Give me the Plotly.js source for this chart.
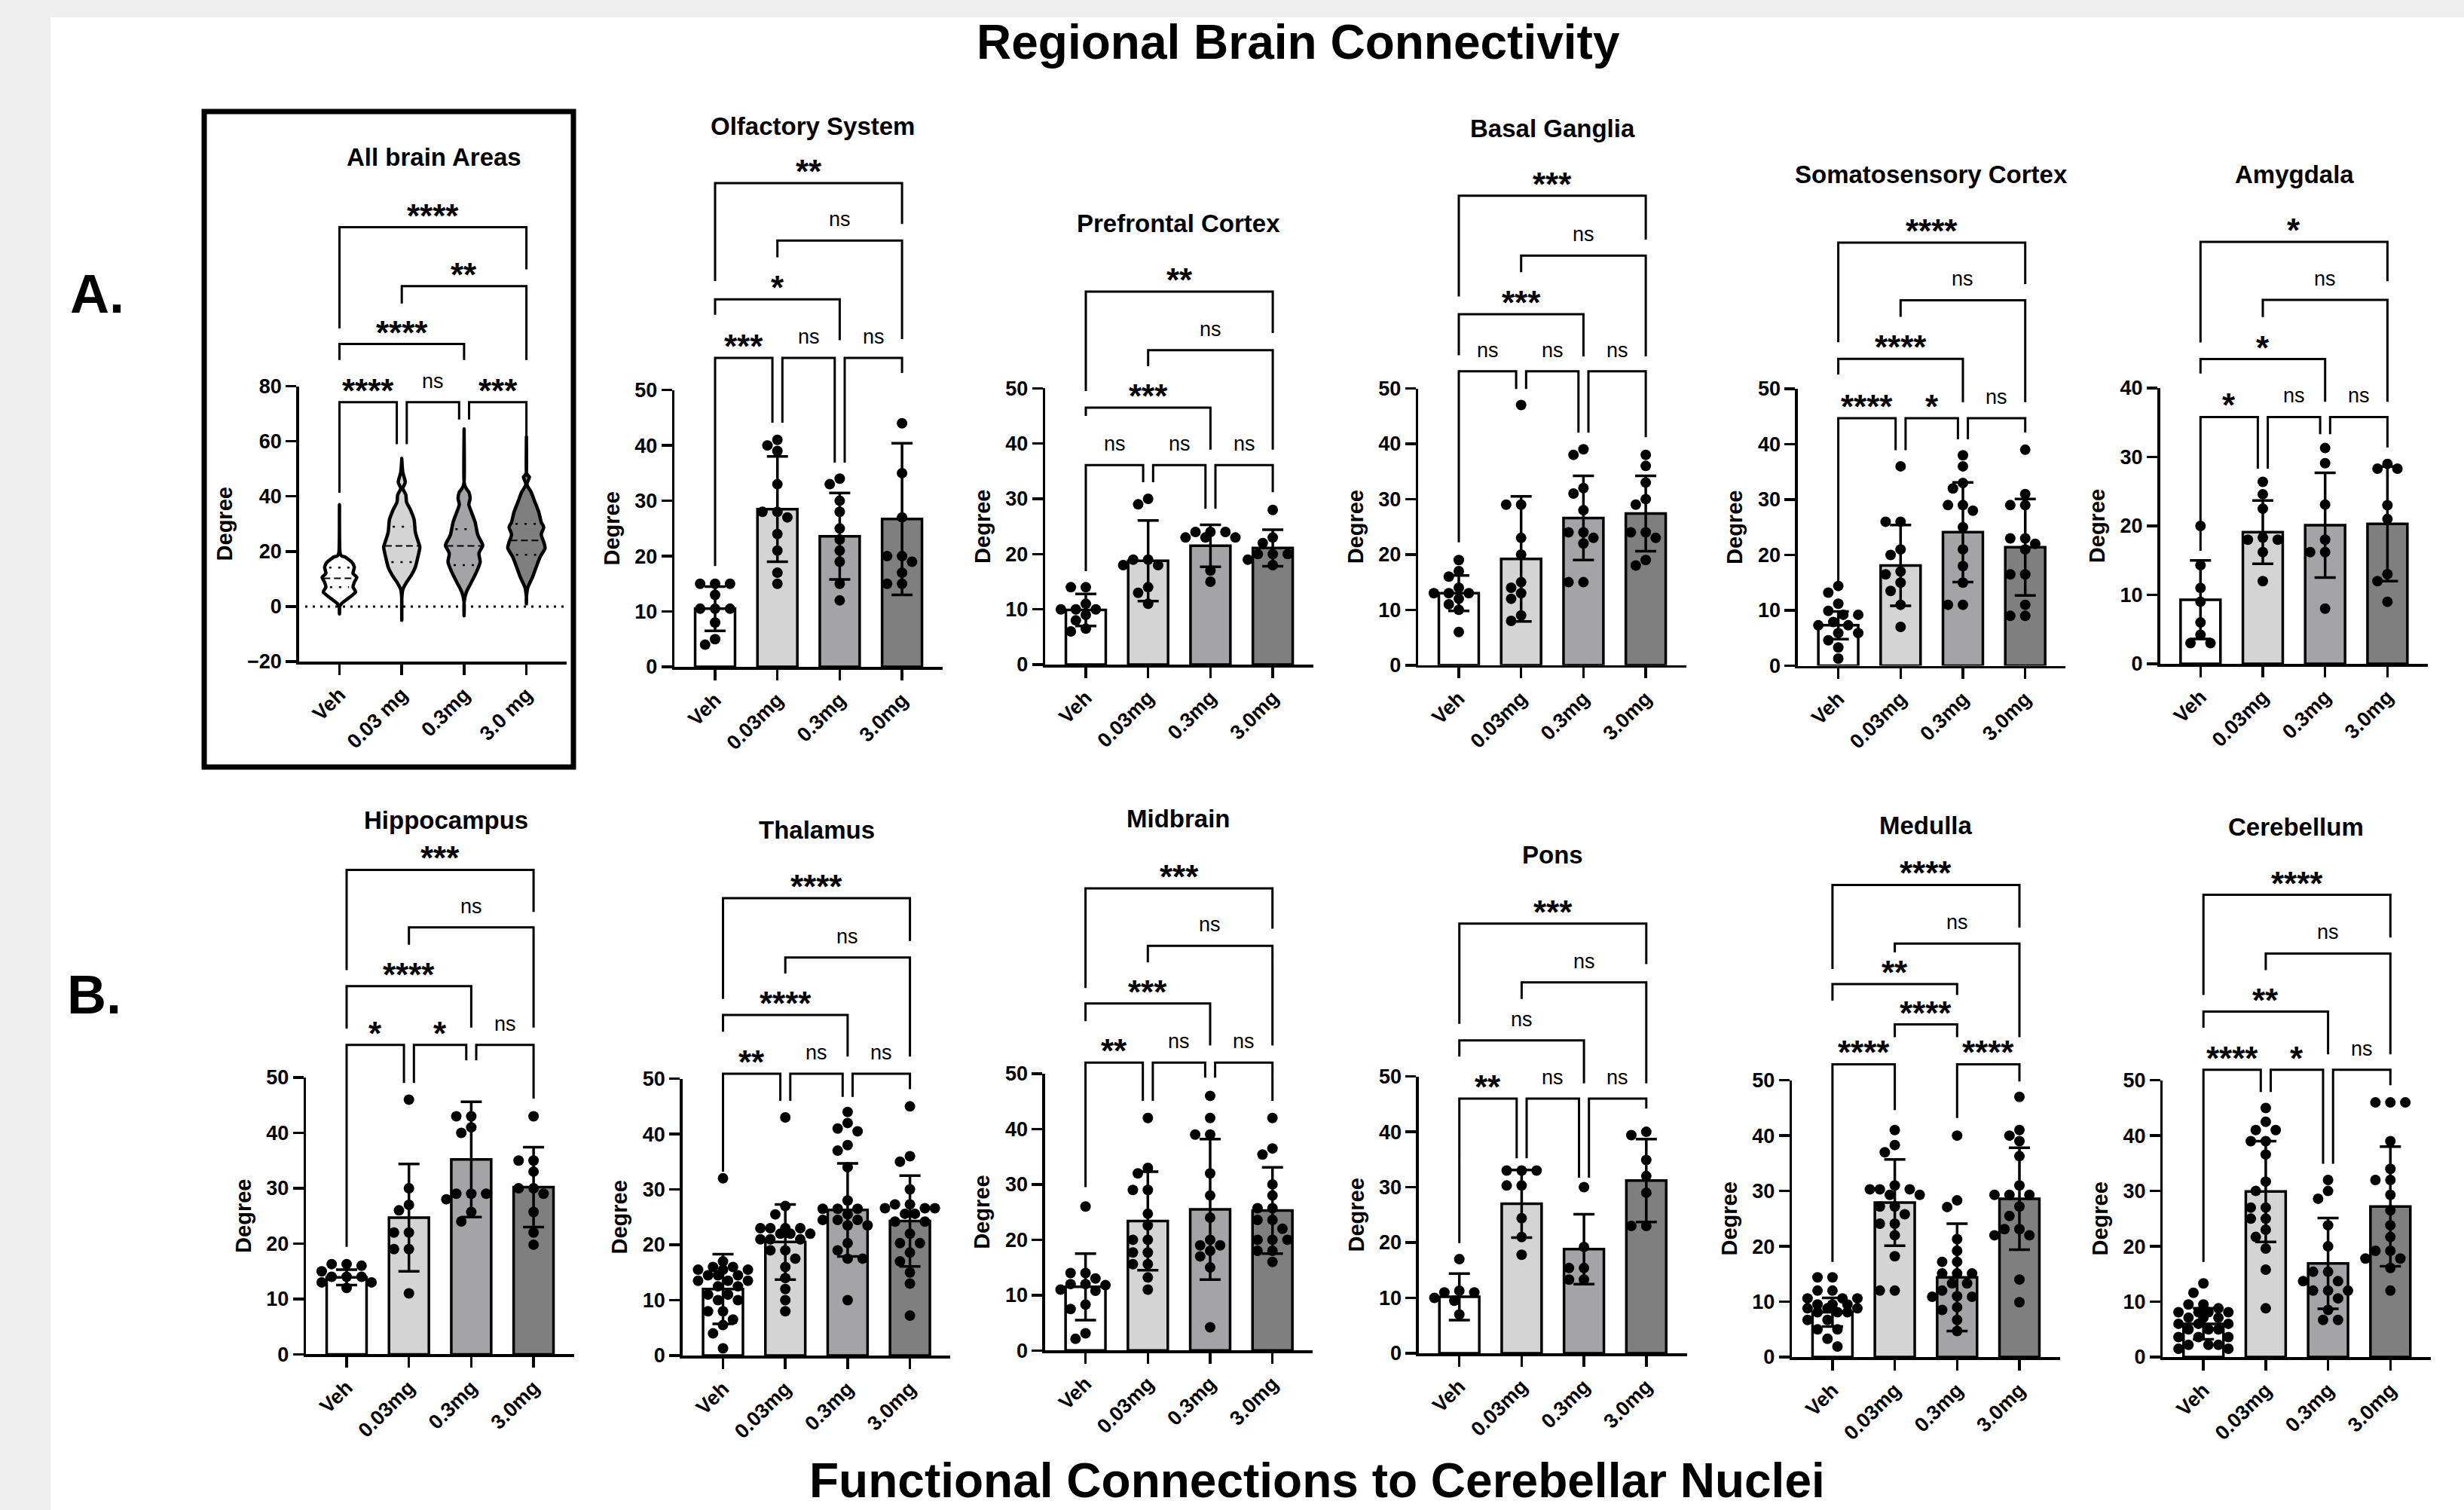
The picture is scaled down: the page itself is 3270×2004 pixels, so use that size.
<!DOCTYPE html>
<html><head><meta charset="utf-8">
<script src="https://cdn.plot.ly/plotly-3.0.1.min.js"></script>
<style>html,body{margin:0;padding:0;background:#efefef;}#chart{width:3270px;height:2004px;}</style>
</head><body><div id="chart"></div>
<script>
// ---------------- DATA ----------------
const groupLabels = ["Veh", "0.03mg", "0.3mg", "3.0mg"];
const violinLabels = ["Veh", "0.03 mg", "0.3mg", "3.0 mg"];

// All brain areas: violin outlines (Degree levels and half-widths)
const violinVehY  = [35.6,19.7,17.9,16.1,14.3,12,10.6,8.8,7,5.2,2.9,1.1,-0.3,-2.5];
const violinVehW  = [0,0.008,0.097,0.198,0.238,0.218,0.278,0.238,0.218,0.258,0.137,0.036,0,0];
const violin003Y  = [53.4,48.8,45.2,42.9,40.6,37.9,35.2,31.5,27,23.4,21.5,17.9,14.3,11.5,8.8,6.1,2.5,-4.4];
const violin003W  = [0,0.016,0.056,0.016,0.065,0.077,0.137,0.198,0.218,0.266,0.29,0.258,0.218,0.157,0.077,0.016,0,0];
const violin03Y   = [62.9,45.2,41.5,39.3,37,34.3,30.6,26.1,23.4,22,19.3,16.1,12.5,8.8,5.2,1.5,-3];
const violin03W   = [0,0,0.077,0.097,0.077,0.117,0.177,0.218,0.278,0.298,0.238,0.258,0.198,0.117,0.036,0,0];
const violin30Y   = [60.6,48.8,47,44.3,41.5,37.9,34.3,30.6,28.8,26.1,23.4,21.1,17.9,14.3,10.6,7,3.4,1.1];
const violin30W   = [0,0,0.048,0.008,0.077,0.137,0.198,0.238,0.278,0.238,0.278,0.298,0.218,0.157,0.097,0.024,0,0];
const violinMedian = [10.2, 22, 22, 24];
const violinQ1 = [7, 16.1, 15, 18.8];
const violinQ3 = [14.1, 29, 28.1, 30];

const olfactoryMean = [10.5, 28.5, 23.6, 26.7];
const olfactorySD = [4, 9.5, 7.8, 13.7];
const olfactoryDots = [[15,15,15,13,10.5,10.5,10.5,8,5,4],[41,40,39,33,28,28,27,24,21,17,15],[34,33,30,28,25,23,21,19,15,12],[44,35,27,20,20,19,17,15,15]];

const prefrontalMean = [9.9, 18.8, 21.5, 21.1];
const prefrontalSD = [2.9, 7.3, 3.8, 3.3];
const prefrontalDots = [[14,14,11,10,10,10,9,8,6.5,6],[30,29,19,19,18,18,14,13,11],[24,24,24,23,23,23,17,15],[28,23,22,20,20,20,19,18]];

const basalMean = [13, 19.2, 26.6, 27.4];
const basalSD = [3.2, 11.3, 7.6, 6.8];
const basalDots = [[19,17,16,14,13,13,13,12,11,10,6],[47,29,29,23,20,15,14,13,12,9,8],[39,38,32,31,28,24,24,23,22,15,15],[38,36,33,30,29,24,24,23,19,18]];

const somatoMean = [7.3, 18.1, 24.1, 21.4];
const somatoSD = [2.5, 7.3, 9, 8.7];
const somatoDots = [[14.4,13.2,11.2,9.9,9.2,9.2,7.9,7.3,7.3,5.9,5.9,4.6,3.3,1.3],[36,26,26,21,20,17,16.5,15,13.5,11,7],[38,36,33,32,29,29,28,25,21,18,15,11,11],[39,31,29,29,23,23,22,21,16.5,16.5,11,9,9]];

const amygdalaMean = [9.3, 19.1, 20.1, 20.3];
const amygdalaSD = [5.7, 4.6, 7.6, 8.3];
const amygdalaDots = [[20,14.3,11,9,6,4.2,3,3],[26.4,24.6,22.5,18.3,18,18,16.2,12],[31.3,29.1,23.1,18,16.2,16.2,8],[29,28.3,28.3,23,21,13,12,9]];

const hippoMean = [13.9, 24.7, 35.2, 30.2];
const hippoSD = [1.4, 9.7, 10.4, 7.2];
const hippoDots = [[16.3,16.3,16,15,14,14,14,13,13,12],[46,30,27,26,22,22,19,19,11],[43,43,41,40,29,29,29,28,25.7,24],[43,35,35,33,30,30,29,25.7,22,19.8]];

const thalamusMean = [12, 20.5, 26.3, 24.3];
const thalamusSD = [6.3, 6.8, 8.4, 8.2];
const thalamusDots = [[32,17,16,16,15.5,15.5,15.5,14.5,14.5,14.5,13.5,13.5,13.5,12.5,12.5,11,11,10,10,8,8,6.5,5.5,4,1.3],
  [43,27,25.5,23,23,23,23,22,22,22,21,21,21,19,19,17.5,16,14,12,10,8],
  [44,42,41,40.5,38,37,34,28,26.5,26.5,26.5,25.5,24.5,24.5,24.5,23.5,23.5,20.3,19,17.5,17.5,10],
  [45,36,35,30,27.3,27.3,26.6,26.6,26.6,25.6,25.6,24.2,24.2,22,20.3,20.3,18.6,17,15,13,7.2]];

const midbrainMean = [11.5, 23.4, 25.5, 25.3];
const midbrainSD = [6, 8.9, 12.7, 7.8];
const midbrainDots = [[26,14,14,13,12,12,11.8,11,10.8,8.3,7.5,3.1,2.1],[42,33,32,29,29,24.7,22.6,20,20,17.7,17.7,15.6,15.6,13.2,11],[46,42,39,39,32,28,24,20,19,19,18,17,15,4.2],[42,36.5,35.4,30,28,25.7,25.7,23.6,23.6,22,20,20,20,18,18,16]];

const ponsMean = [10.2, 27, 18.8, 31.2];
const ponsSD = [4.2, 6.1, 6.3, 7.5];
const ponsDots = [[17,11.3,11,11,10,9.5,7],[33,33,33,30.3,30.3,24.4,21,17.8],[30,19.2,15.4,15.4,13.3,13.3],[40,39.4,34.9,32,29,23,23]];

const medullaMean = [8.1, 27.9, 14.4, 28.6];
const medullaSD = [2.6, 7.8, 9.7, 9.2];
const medullaDots = [[14.4,14.4,12,12,10.6,10.6,10.6,9.5,9.5,9.5,8.8,8.8,8.8,8.1,8.1,8.1,6.7,6.7,5,5,3.3,1.9],
  [41,38.3,37,31,30.3,30.3,30.3,29.3,29.3,27.2,27.2,25.8,24.1,24.1,22,18.2,12,12],
  [40,28.3,27.1,21.3,19.2,17.2,17.2,15.1,15.1,15.1,13.3,13.3,12,11,10.9,10.9,9,8.5,6.7,4.7],
  [47,41,40,39,36.3,31,29.3,29.3,29.3,27.2,25.5,23.1,23.1,22,22,14,9.9]];

const cerebellumMean = [6, 29.9, 16.9, 27.2];
const cerebellumSD = [2.8, 9.1, 8.2, 10.8];
const cerebellumDots = [[13.3,11.6,9.5,9.5,8.8,8.1,8.1,8.1,8.1,7.1,7.1,7.1,6,6,6,5,5,5,3.6,3.6,3.6,2.2,2.2,2.2,1.5,1.5],
  [45,42.5,41,41,39,39,36.6,31.7,30,27,27,25,25,23,21.7,19.6,15.8,8.8],
  [32,30,28.6,23.8,20,15.4,15.4,13.7,13.7,12,12,12,10.6,8.5,6.7,6.7],
  [46,46,46,39,34,32,32,29.3,26.5,23.8,21.7,19.2,19.2,17.8,17.8,16.1,12]];

// significance brackets: [group i, group j, bracket level, left leg end, right leg end, label]
const allBrainBrackets = [[0,3,137.7,101,122.4,"****"],[1,3,116.3,110,89.5,"**"],[0,2,95.3,89.5,89.5,"****"],[0,1,74.2,41.3,58.9,"****"],[1,2,74.2,58.9,67.9,"ns"],[2,3,74.2,67.9,62,"***"]];
const olfactoryBrackets = [[0,3,87.4,69.7,80,"**"],[1,3,77,74,59.2,"ns"],[0,2,66.4,63.6,59,"*"],[0,1,55.8,18.2,44.1,"***"],[1,2,55.8,44.1,36.9,"ns"],[2,3,55.8,36.9,53.1,"ns"]];
const prefrontalBrackets = [[0,3,67.5,49.5,60,"**"],[1,3,56.9,54,38.9,"ns"],[0,2,46.5,45,38.9,"***"],[0,1,36.1,16.9,33,"ns"],[1,2,36.1,33,28.2,"ns"],[2,3,36.1,28.2,31.2,"ns"]];
const basalBrackets = [[0,3,84.8,66.6,76.9,"***"],[1,3,74,71,55.8,"ns"],[0,2,63.4,56,55.8,"***"],[0,1,53.1,22.2,49.9,"ns"],[1,2,53.1,49.9,42,"ns"],[2,3,53.1,42,41.2,"ns"]];
const somatoBrackets = [[0,3,76.4,58.4,68.9,"****"],[1,3,66,63,47.6,"ns"],[0,2,55.4,52.6,47.6,"****"],[0,1,44.7,15.2,38.9,"****"],[1,2,44.7,38.9,40.9,"*"],[2,3,44.7,40.9,42.1,"ns"]];
const amygdalaBrackets = [[0,3,61.2,46.6,55.5,"*"],[1,3,52.8,50.3,38,"ns"],[0,2,44.2,42.1,38,"*"],[0,1,35.8,16.4,28.3,"*"],[1,2,35.8,28.3,33.3,"ns"],[2,3,35.8,33.3,31.4,"ns"]];
const hippoBrackets = [[0,3,87.5,69.4,79.9,"***"],[1,3,77.1,74,59,"ns"],[0,2,66.5,58.8,59,"****"],[0,1,55.9,19.4,49,"*"],[1,2,55.9,49,53.1,"*"],[2,3,55.9,53.1,46.2,"ns"]];
const thalamusBrackets = [[0,3,82.6,64.4,74.9,"****"],[1,3,71.9,69,54,"ns"],[0,2,61.5,58.5,54,"****"],[0,1,50.9,33.2,46,"**"],[1,2,50.9,46,46.7,"ns"],[2,3,50.9,46.7,48.1,"ns"]];
const midbrainBrackets = [[0,3,83.5,65.5,76.2,"***"],[1,3,73.1,70.1,55.1,"ns"],[0,2,62.7,59.5,55.1,"***"],[0,1,52,29.5,45.1,"**"],[1,2,52,45.1,49.3,"ns"],[2,3,52,49.3,45.1,"ns"]];
const ponsBrackets = [[0,3,77.6,59.5,70.3,"***"],[1,3,67,64,48.75,"ns"],[0,2,56.5,53.6,48.75,"ns"],[0,1,46,19.9,35.2,"**"],[1,2,46,35.2,31.7,"ns"],[2,3,46,31.7,44.2,"ns"]];
const medullaBrackets = [[0,3,85.3,70.1,77.6,"****"],[1,3,74.7,73.1,57.8,"ns"],[0,2,67.4,64.4,65.4,"**"],[1,2,60.1,57.8,57.8,"****"],[0,1,52.9,17.2,44.6,"****"],[2,3,52.9,43.2,49.8,"****"]];
const cerebellumBrackets = [[0,3,83.5,65.4,75.8,"****"],[1,3,72.9,69.9,54.7,"ns"],[0,2,62.4,59.5,54.7,"**"],[0,1,51.9,17.2,47.9,"****"],[1,2,51.9,47.9,34.9,"*"],[2,3,51.9,34.9,49.1,"ns"]];

const panelTitles = ["All brain Areas","Olfactory System","Prefrontal Cortex","Basal Ganglia","Somatosensory Cortex","Amygdala",
  "Hippocampus","Thalamus","Midbrain","Pons","Medulla","Cerebellum"];

// ---------------- STYLE / GEOMETRY ----------------
const FONT = "Liberation Sans, Arial, Helvetica, sans-serif";
const W = 3270, H = 2004, S = 82.7;
const groupColors = ["#ffffff", "#d4d4d4", "#a4a4a7", "#7f7f7f"];
const geom = [
  {cat0:450.5, y0:878,    yTop:512.5,  ymin:-20, ymax:80, dtick:20},
  {cat0:949,   y0:885,    yTop:517.7,  ymin:0, ymax:50, dtick:10},
  {cat0:1441,  y0:882,    yTop:515.4,  ymin:0, ymax:50, dtick:10},
  {cat0:1936,  y0:882.8,  yTop:515.5,  ymin:0, ymax:50, dtick:10},
  {cat0:2439.6,y0:883.5,  yTop:516,    ymin:0, ymax:50, dtick:10},
  {cat0:2920.3,y0:881,    yTop:515,    ymin:0, ymax:40, dtick:10},
  {cat0:460,   y0:1797.4, yTop:1430,   ymin:0, ymax:50, dtick:10},
  {cat0:959.5, y0:1799,   yTop:1431.6, ymin:0, ymax:50, dtick:10},
  {cat0:1440.6,y0:1792.3, yTop:1425,   ymin:0, ymax:50, dtick:10},
  {cat0:1936.7,y0:1796,   yTop:1428.6, ymin:0, ymax:50, dtick:10},
  {cat0:2431.9,y0:1801,   yTop:1433.7, ymin:0, ymax:50, dtick:10},
  {cat0:2924.2,y0:1801,   yTop:1433.7, ymin:0, ymax:50, dtick:10}
];
const titlePos = [[575.6,208.5],[1078,167],[1564,296],[2060,171],[2563,231.5],[3045,231.5],
  [592,1088.6],[1084,1101],[1564,1086.5],[2060,1134.5],[2555,1095],[3047,1097]];

const violinProfiles = [[violinVehY, violinVehW], [violin003Y, violin003W], [violin03Y, violin03W], [violin30Y, violin30W]];
const regions = [
  {violin:true, profiles:violinProfiles, brackets:allBrainBrackets, inset:true},
  {mean:olfactoryMean, sd:olfactorySD, dots:olfactoryDots, brackets:olfactoryBrackets, inset:true},
  {mean:prefrontalMean, sd:prefrontalSD, dots:prefrontalDots, brackets:prefrontalBrackets, inset:true},
  {mean:basalMean, sd:basalSD, dots:basalDots, brackets:basalBrackets, inset:true},
  {mean:somatoMean, sd:somatoSD, dots:somatoDots, brackets:somatoBrackets, inset:true},
  {mean:amygdalaMean, sd:amygdalaSD, dots:amygdalaDots, brackets:amygdalaBrackets, inset:true},
  {mean:hippoMean, sd:hippoSD, dots:hippoDots, brackets:hippoBrackets, inset:true},
  {mean:thalamusMean, sd:thalamusSD, dots:thalamusDots, brackets:thalamusBrackets, inset:true},
  {mean:midbrainMean, sd:midbrainSD, dots:midbrainDots, brackets:midbrainBrackets, inset:true},
  {mean:ponsMean, sd:ponsSD, dots:ponsDots, brackets:ponsBrackets, inset:true},
  {mean:medullaMean, sd:medullaSD, dots:medullaDots, brackets:medullaBrackets, inset:false},
  {mean:cerebellumMean, sd:cerebellumSD, dots:cerebellumDots, brackets:cerebellumBrackets, inset:true}
];

const PX = x => x / W, PY = y => 1 - y / H;
const traces = [], shapes = [], annotations = [];
const layout = {
  width: W, height: H, margin: {l:0, r:0, t:0, b:0},
  paper_bgcolor: "#efefef", plot_bgcolor: "rgba(0,0,0,0)", showlegend: false,
  font: {family: FONT, color: "#000"}
};

shapes.push({type:"rect", xref:"paper", yref:"paper", x0:PX(67), x1:1, y0:0, y1:PY(23), fillcolor:"#ffffff", line:{width:0}, layer:"below"});

const DOT = 14;
function swarm(vals, pxu) {
  const placed = [], out = [];
  const cand = [0];
  for (let k = 1; k <= 5; k++) cand.push(-k * 0.08, k * 0.08);
  vals.forEach(v => {
    let best = 0, bestD = -1;
    for (const c of cand) {
      let md = Infinity;
      placed.forEach(p => { md = Math.min(md, Math.hypot((p[0] - c) * S, (p[1] - v) * pxu)); });
      if (md >= DOT + 0.5) { best = c; bestD = md; break; }
      if (md > bestD) { bestD = md; best = c; }
    }
    placed.push([best, v]); out.push(best);
  });
  return out;
}
function widthAt(ys, ws, y) {
  for (let i = 0; i < ys.length - 1; i++) {
    if (y <= ys[i] && y >= ys[i + 1]) return ws[i] + (ws[i + 1] - ws[i]) * (ys[i] - y) / (ys[i] - ys[i + 1]);
  }
  return 0;
}
function smoothClosedPath(pts) {
  const n = pts.length;
  const P = i => pts[(i + n) % n];
  let d = `M ${P(0)[0]},${P(0)[1]}`;
  for (let i = 0; i < n; i++) {
    const p0 = P(i - 1), p1 = P(i), p2 = P(i + 1), p3 = P(i + 2);
    const t = 0.7 / 6;
    const c1 = [p1[0] + (p2[0] - p0[0]) * t, p1[1] + (p2[1] - p0[1]) * t];
    const c2 = [p2[0] - (p3[0] - p1[0]) * t, p2[1] - (p3[1] - p1[1]) * t];
    d += ` C ${c1[0]},${c1[1]} ${c2[0]},${c2[1]} ${p2[0]},${p2[1]}`;
  }
  return d + " Z";
}

regions.forEach((r, k) => {
  const g = geom[k];
  const n = k + 1, sfx = n === 1 ? "" : String(n);
  const xId = "x" + sfx, yId = "y" + sfx;
  const pxu = (g.y0 - g.yTop) / (g.ymax - g.ymin);
  const X = c => PX(g.cat0 + c * S);
  const Y = v => PY(g.y0 - (v - g.ymin) * pxu);
  const labels = r.violin ? violinLabels : groupLabels;

  layout["xaxis" + sfx] = {
    domain: [PX(g.cat0 - 0.65 * S), PX(g.cat0 + 3.65 * S)], range: [-0.65, 3.65], anchor: yId,
    tickmode: "array", tickvals: [0, 1, 2, 3], ticktext: labels, tickangle: -45,
    ticks: "outside", ticklen: 14, tickwidth: 3.5, tickcolor: "#000",
    showline: true, linewidth: 3.5, linecolor: "#000", showgrid: false, zeroline: false,
    tickfont: {family: FONT, size: 27, color: "#000", weight: "bold"}, fixedrange: true
  };
  layout["yaxis" + sfx] = {
    domain: [PY(g.y0), PY(g.yTop)], range: [g.ymin, g.ymax], anchor: xId,
    tickmode: "linear", tick0: g.ymin, dtick: g.dtick,
    ticks: "outside", ticklen: 14, tickwidth: 3.5, tickcolor: "#000",
    showline: true, linewidth: 3.5, linecolor: "#000", showgrid: false, zeroline: false,
    tickfont: {family: FONT, size: 27, color: "#000", weight: "bold"},
    title: {text: "Degree", font: {family: FONT, size: 29, color: "#000", weight: "bold"}, standoff: 12},
    fixedrange: true
  };

  if (r.violin) {
    shapes.push({type:"line", xref:"paper", yref:"paper", x0:PX(g.cat0 - 0.55 * S), x1:PX(g.cat0 + 3.65 * S), y0:Y(0), y1:Y(0),
      line:{color:"#000", width:3, dash:"3px,7px"}});
    r.profiles.forEach((prof, gi) => {
      const [ys, ws] = prof;
      const pts = [];
      ys.forEach((y, i) => pts.push([gi + ws[i], y]));
      for (let i = ys.length - 1; i >= 0; i--) pts.push([gi - ws[i], ys[i]]);
      traces.push({type:"scatter", mode:"lines", x:pts.map(p => p[0]), y:pts.map(p => p[1]), xaxis:xId, yaxis:yId,
        line:{color:"rgba(0,0,0,0)", width:0}, hoverinfo:"skip"});
      shapes.push({type:"path", xref:xId, yref:yId, path:smoothClosedPath(pts), fillcolor:groupColors[gi],
        line:{color:"#000", width:4.5}, layer:"above"});
      [[violinMedian[gi], "9px,5px", 2, 0.95], [violinQ1[gi], "3px,9px", 2.5, 0.7], [violinQ3[gi], "3px,9px", 2.5, 0.7]].forEach(q => {
        const w = widthAt(ys, ws, q[0]) * q[3];
        shapes.push({type:"line", xref:xId, yref:yId, x0:gi - w, x1:gi + w, y0:q[0], y1:q[0], line:{color:"#000", width:q[2], dash:q[1]}});
      });
    });
  } else {
    traces.push({type:"bar", x:[0, 1, 2, 3], y:r.mean, xaxis:xId, yaxis:yId, width:0.64,
      marker:{color:groupColors, line:{color:"#000", width:3.5}},
      error_y:{type:"data", array:r.sd, visible:true, color:"#000", thickness:3.5, width:14}, hoverinfo:"skip"});
    const dx = [], dy = [];
    r.dots.forEach((vals, gi) => {
      const offs = swarm(vals, pxu);
      vals.forEach((v, i) => { dx.push(gi + offs[i]); dy.push(v); });
    });
    traces.push({type:"scatter", mode:"markers", x:dx, y:dy, xaxis:xId, yaxis:yId,
      marker:{color:"#000", size:DOT, line:{width:0}}, cliponaxis:false, hoverinfo:"skip"});
  }

  r.brackets.forEach(b => {
    const [i, j, lev, ei, ej, lab] = b;
    let xi = i, xj = j;
    if (r.inset && j - i === 1) { if (i > 0) xi += 0.08; if (j < 3) xj -= 0.08; }
    shapes.push({type:"path", xref:"paper", yref:"paper",
      path:`M ${X(xi)} ${Y(ei)} L ${X(xi)} ${Y(lev)} L ${X(xj)} ${Y(lev)} L ${X(xj)} ${Y(ej)}`,
      line:{color:"#000", width:3}});
    const stars = lab !== "ns";
    annotations.push({xref:"paper", yref:"paper", x:(X(xi) + X(xj)) / 2, y:Y(lev), text:lab, showarrow:false,
      xanchor:"center", yanchor:"bottom", yshift: stars ? -11 : 11,
      font:{family:FONT, size: stars ? 44 : 27, color:"#000", weight: stars ? "bold" : "normal"}});
  });

  annotations.push({xref:"paper", yref:"paper", x:PX(titlePos[k][0]), y:PY(titlePos[k][1]), text:panelTitles[k],
    showarrow:false, xanchor:"center", yanchor:"middle", font:{family:FONT, size:33, color:"#000", weight:"bold"}});
});

shapes.push({type:"rect", xref:"paper", yref:"paper", x0:PX(271), x1:PX(761), y0:PY(1018), y1:PY(148), line:{color:"#000", width:7}});

annotations.push({xref:"paper", yref:"paper", x:PX(1723), y:PY(56), text:"Regional Brain Connectivity", showarrow:false,
  xanchor:"center", yanchor:"middle", font:{family:FONT, size:64, color:"#000", weight:"bold"}});
annotations.push({xref:"paper", yref:"paper", x:PX(1748), y:PY(1965), text:"Functional Connections to Cerebellar Nuclei", showarrow:false,
  xanchor:"center", yanchor:"middle", font:{family:FONT, size:64, color:"#000", weight:"bold"}});
annotations.push({xref:"paper", yref:"paper", x:PX(129), y:PY(390), text:"A.", showarrow:false,
  xanchor:"center", yanchor:"middle", font:{family:FONT, size:72, color:"#000", weight:"bold"}});
annotations.push({xref:"paper", yref:"paper", x:PX(125), y:PY(1320), text:"B.", showarrow:false,
  xanchor:"center", yanchor:"middle", font:{family:FONT, size:72, color:"#000", weight:"bold"}});

layout.shapes = shapes;
layout.annotations = annotations;
Plotly.newPlot("chart", traces, layout, {displayModeBar:false, staticPlot:true});
</script>
</body></html>
